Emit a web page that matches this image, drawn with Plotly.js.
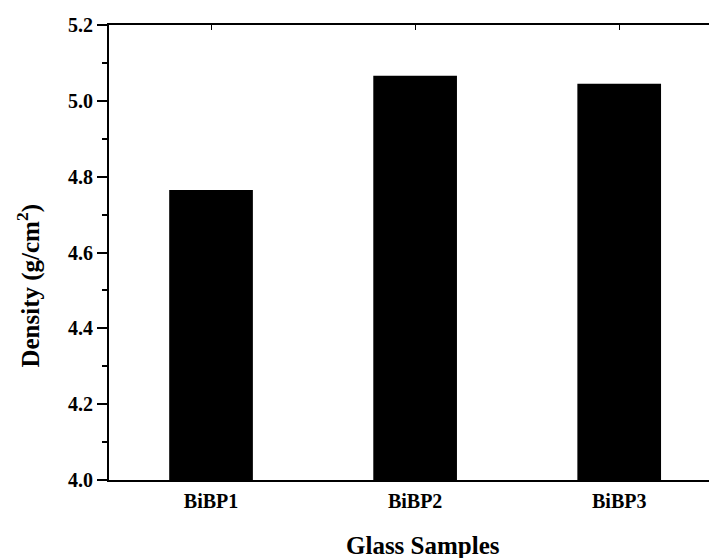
<!DOCTYPE html>
<html>
<head>
<meta charset="utf-8">
<script src="https://cdn.plot.ly/plotly-3.0.1.min.js"></script>
<style>html,body{margin:0;padding:0;overflow:hidden;background:#fff;}</style>
</head>
<body>
<div id="chart" style="width:709px;height:558px;"></div>
<script>
const categories = ["BiBP1", "BiBP2", "BiBP3"];
const densities = [4.765, 5.066, 5.045];
const yTickVals = [4.0, 4.2, 4.4, 4.6, 4.8, 5.0, 5.2];
const yTickText = ["4.0", "4.2", "4.4", "4.6", "4.8", "5.0", "5.2"];
const xTitle = "Glass Samples";
const yTitle = "Density (g/cm<sup>2</sup>)";

const font = "'Liberation Serif', 'Times New Roman', serif";

Plotly.newPlot("chart", [{
  type: "bar",
  x: categories,
  y: densities,
  width: 0.41,
  marker: {color: "#000000", line: {color: "#000000", width: 0}},
  hoverinfo: "skip"
}], {
  width: 709,
  height: 558,
  margin: {l: 109, r: 0, t: 25, b: 78},
  paper_bgcolor: "#fff",
  plot_bgcolor: "#fff",
  showlegend: false,
  font: {family: font, color: "#000"},
  xaxis: {
    range: [-0.5, 2.44],
    showgrid: false,
    zeroline: false,
    showline: true,
    linecolor: "#000",
    linewidth: 2,
    mirror: "ticks",
    ticks: "inside",
    ticklen: 5,
    tickwidth: 1,
    tickcolor: "#000",
    ticklabelstandoff: 2,
    tickfont: {family: font, size: 20, color: "#000", weight: "bold"}
  },
  yaxis: {
    range: [4.0, 5.2],
    tickvals: yTickVals,
    ticktext: yTickText,
    showgrid: false,
    zeroline: false,
    showline: true,
    linecolor: "#000",
    linewidth: 2,
    ticks: "outside",
    ticklen: 10,
    tickwidth: 2,
    tickcolor: "#000",
    minor: {dtick: 0.1, tick0: 4.0, ticks: "outside", ticklen: 5, tickwidth: 2, tickcolor: "#000"},
    tickfont: {family: font, size: 20, color: "#000", weight: "bold"}
  },
  annotations: [
    {
      text: "<b>" + xTitle + "</b>",
      xref: "paper", yref: "paper",
      x: 0.5225, y: -0.145,
      xanchor: "center", yanchor: "middle",
      showarrow: false,
      font: {family: font, size: 25, color: "#000"}
    },
    {
      text: "<b>" + yTitle + "</b>",
      xref: "paper", yref: "paper",
      x: -0.1345, y: 0.428,
      xanchor: "center", yanchor: "middle",
      textangle: -90,
      showarrow: false,
      font: {family: font, size: 25, color: "#000"}
    }
  ]
}, {displayModeBar: false, staticPlot: true});
</script>
</body>
</html>
